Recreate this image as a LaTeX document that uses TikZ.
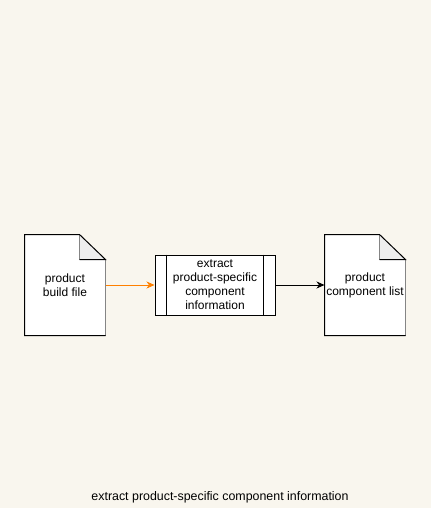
\documentclass[tikz,border=0pt]{standalone}
\usepackage{fontspec}
\setmainfont{Liberation Sans}
\usetikzlibrary{arrows.meta,positioning,calc}
\definecolor{paper}{HTML}{F9F6EE}
\definecolor{foldgray}{HTML}{EEEEEE}
\definecolor{edgegray}{HTML}{858585}
\definecolor{flow}{HTML}{FF8000}

\begin{document}
\begin{tikzpicture}[x=1pt,y=-1pt, line width=1pt,
	doc/.style={minimum width=80pt, minimum height=100pt, inner sep=0pt},
	proc/.style={draw, fill=white, minimum width=120pt, minimum height=60pt, inner sep=0pt, align=center},
	arr/.style={-{Stealth[length=8pt,width=7pt,inset=2.5pt]}},
	font=\fontsize{12}{14}\selectfont]
	\fill[paper] (0,0) rectangle (431,508);
	% documents
	\foreach \n/\x/\txt in {build/65/{product\\build file}, list/365/{product\\component list}} {
		\node[doc] (\n) at (\x,285) {};
		\fill[white] (\n.north west) -- ($(\n.north east)+(-26,0)$) -- ($(\n.north east)+(0,25)$)
			-- (\n.south east) -- (\n.south west) -- cycle;
		\fill[foldgray] ($(\n.north east)+(-26,0)$) -- ($(\n.north east)+(-26,25)$)
			-- ($(\n.north east)+(0,25)$) -- cycle;
		\draw[edgegray, line width=1.6pt] ($(\n.north east)+(-26,0)$) -- ($(\n.north east)+(-26,25)$);
		\draw[edgegray, line width=1.6pt] ($(\n.north east)+(0,25)$) -- (\n.south east);
		\draw[line join=miter] ($(\n.north east)+(-26,25)$) -- ($(\n.north east)+(0,25)$)
			-- ($(\n.north east)+(-26,0)$) -- (\n.north west) -- (\n.south west) -- (\n.south east);
		\node[align=center, inner sep=0pt] (\n-text) at (\n) {\txt};
	}
	% process
	\node[proc] (extract) at (215,285) {extract\\product-specific\\component\\information};
	\draw ($(extract.north west)+(12,0)$) -- ($(extract.south west)+(12,0)$);
	\draw ($(extract.north east)+(-12,0)$) -- ($(extract.south east)+(-12,0)$);
	\draw[arr, flow, line width=0.7pt] (build) -- (extract);
	\draw[arr] (extract) -- (list);
	\node[font=\fontsize{12.4}{14}\selectfont] (title) at (220,497.5) {extract product-specific component information};
\end{tikzpicture}
\end{document}
